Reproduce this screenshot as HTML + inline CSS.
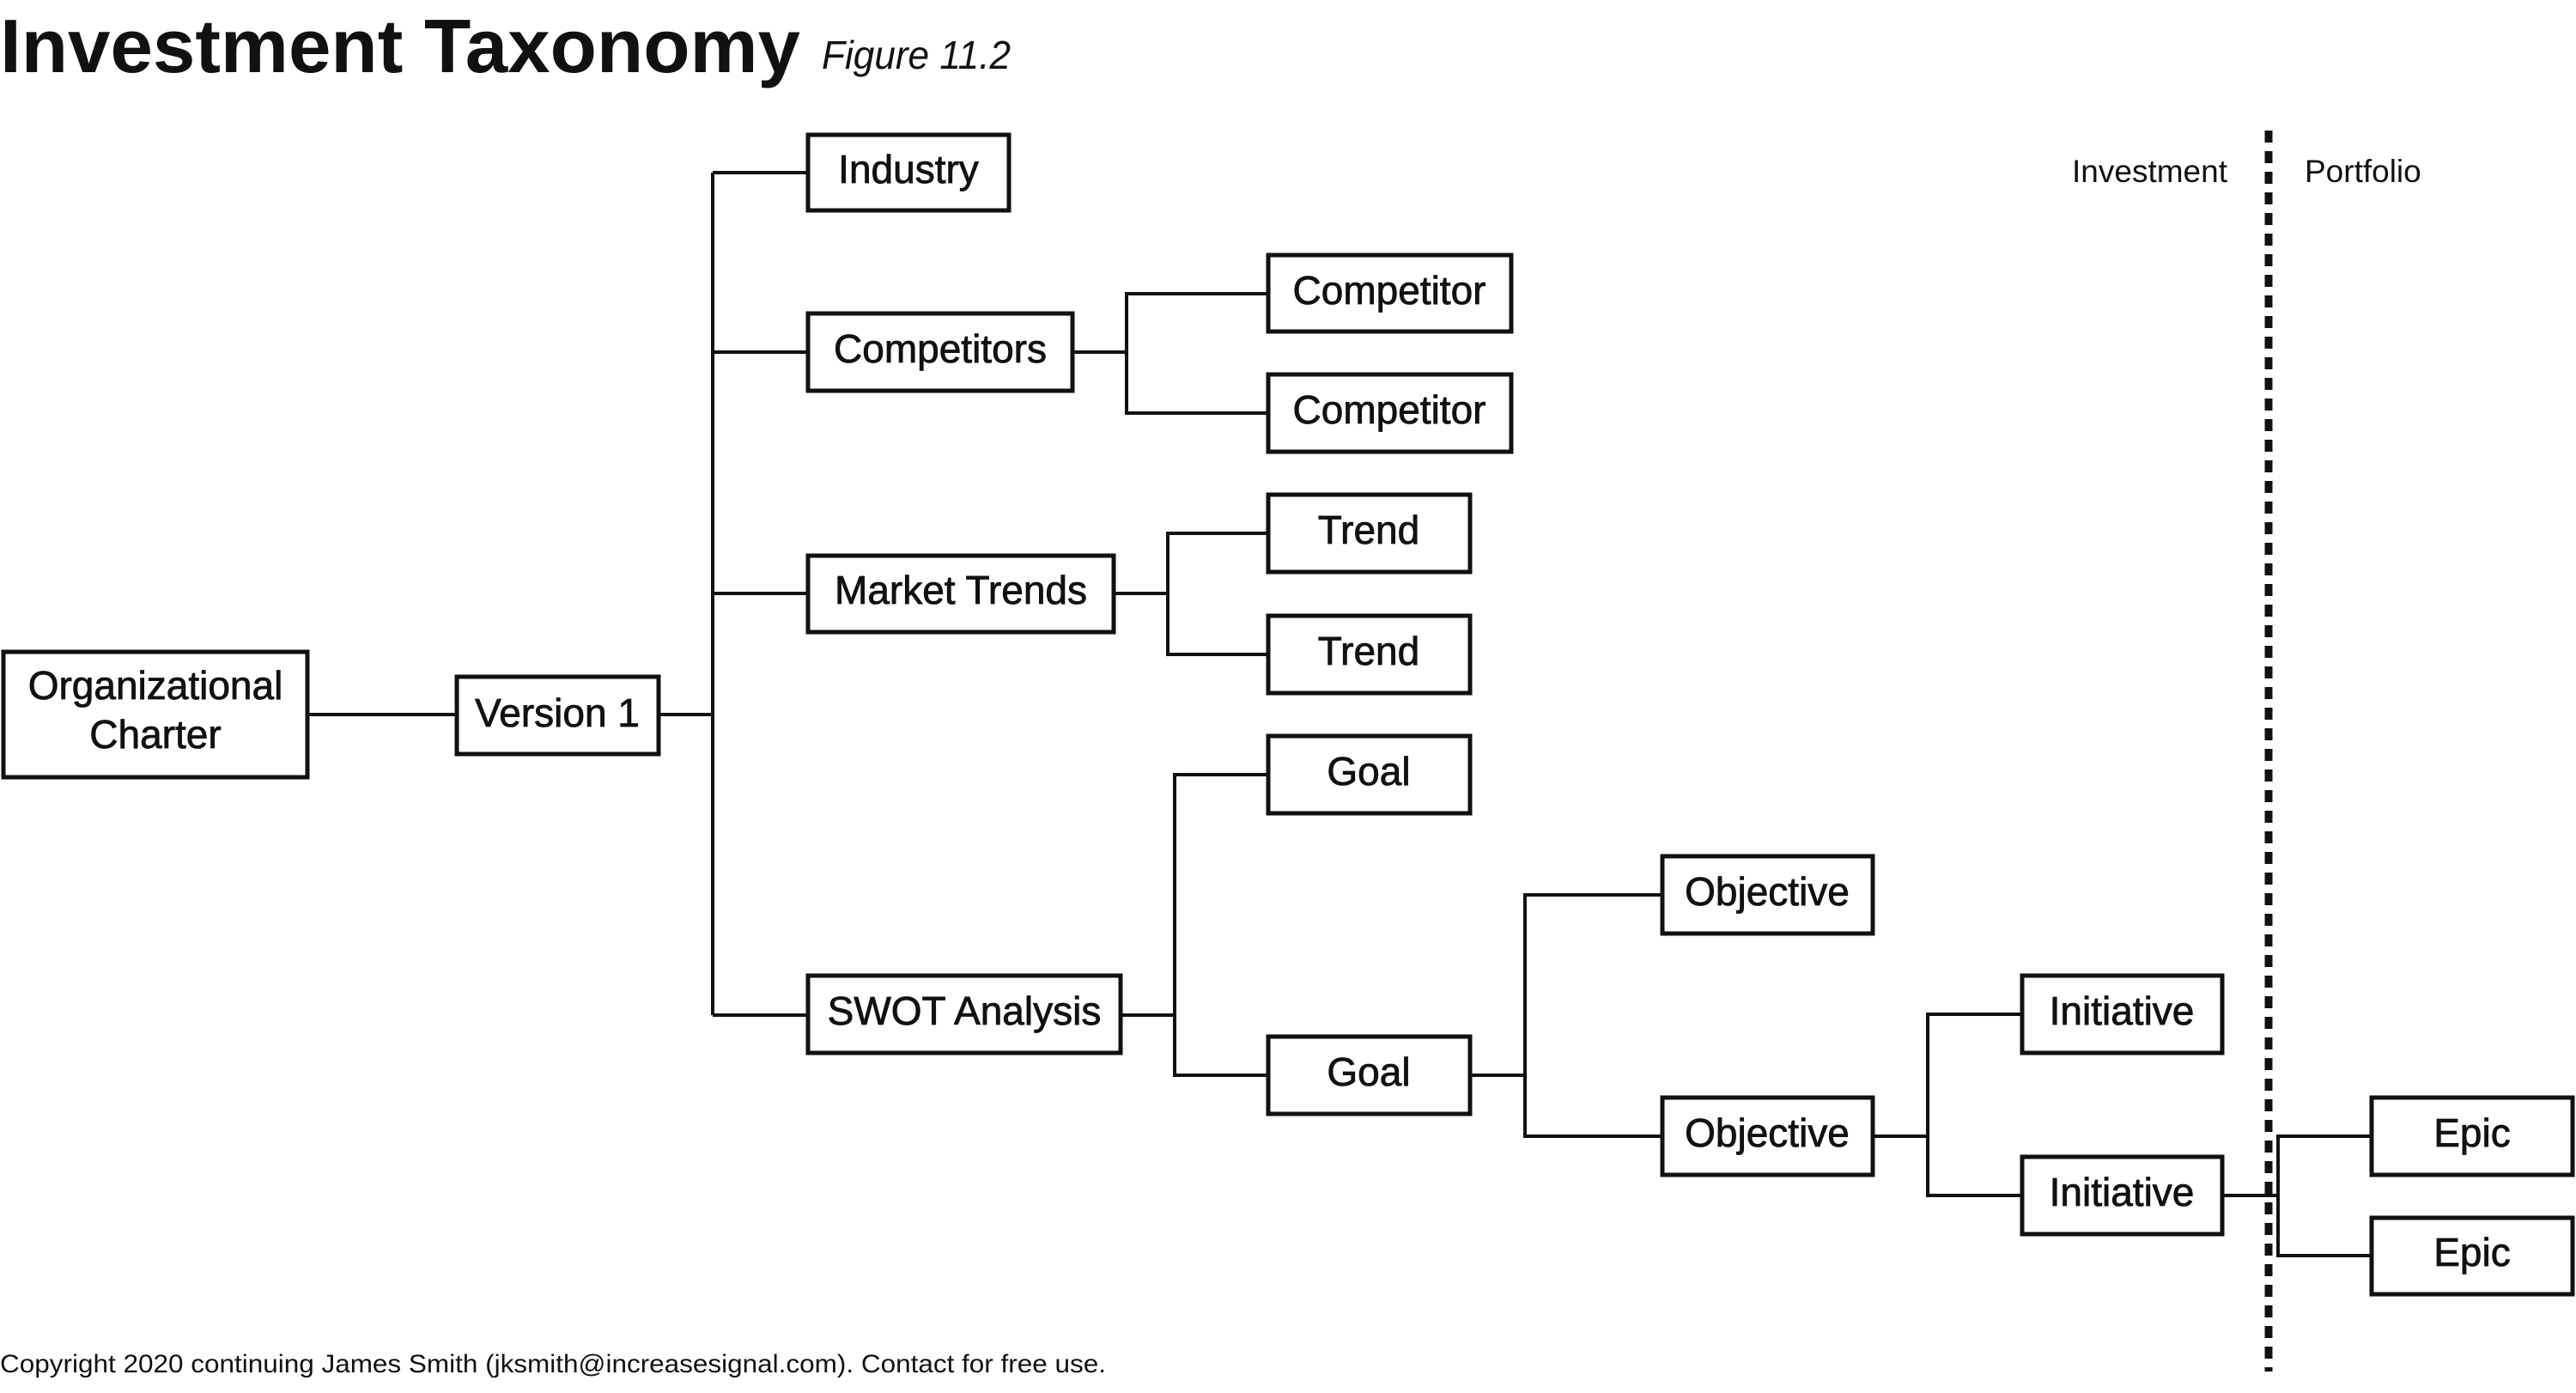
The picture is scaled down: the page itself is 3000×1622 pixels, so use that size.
<!DOCTYPE html>
<html><head><meta charset="utf-8"><style>
html,body{margin:0;padding:0;background:#fff;}
svg{display:block}
text{font-family:"Liberation Sans",sans-serif;fill:#111}
</style></head><body>
<svg width="3000" height="1622" viewBox="0 0 3000 1622" xmlns="http://www.w3.org/2000/svg">
<text x="0" y="84" font-size="88" font-weight="bold" textLength="932" lengthAdjust="spacingAndGlyphs">Investment Taxonomy</text>
<text x="957" y="80" font-size="46" font-style="italic" textLength="220" lengthAdjust="spacingAndGlyphs">Figure 11.2</text>
<text x="2594" y="212" font-size="37" text-anchor="end">Investment</text>
<text x="2684" y="212" font-size="37">Portfolio</text>
<text x="0" y="1598" font-size="30" textLength="1288" lengthAdjust="spacingAndGlyphs">Copyright 2020 continuing James Smith (jksmith@increasesignal.com). Contact for free use.</text>
<line x1="2642" y1="152" x2="2642" y2="1597" stroke="#111" stroke-width="9" stroke-dasharray="14 10"/>
<g stroke="#111" stroke-width="4" fill="none">
<line x1="358" y1="832" x2="532" y2="832"/>
<line x1="767" y1="832" x2="830" y2="832"/>
<line x1="830" y1="201" x2="830" y2="1182"/>
<line x1="830" y1="201" x2="941" y2="201"/>
<line x1="830" y1="410" x2="941" y2="410"/>
<line x1="830" y1="691" x2="941" y2="691"/>
<line x1="830" y1="1182" x2="941" y2="1182"/>
<line x1="1249" y1="410" x2="1312" y2="410"/>
<polyline points="1477,342 1312,342 1312,481 1477,481"/>
<line x1="1297" y1="691" x2="1360" y2="691"/>
<polyline points="1477,621 1360,621 1360,762 1477,762"/>
<line x1="1305" y1="1182" x2="1368" y2="1182"/>
<polyline points="1477,902 1368,902 1368,1252 1477,1252"/>
<line x1="1712" y1="1252" x2="1776" y2="1252"/>
<polyline points="1936,1042 1776,1042 1776,1323 1936,1323"/>
<line x1="2181" y1="1323" x2="2245" y2="1323"/>
<polyline points="2355,1181 2245,1181 2245,1392 2355,1392"/>
<line x1="2588" y1="1392" x2="2653" y2="1392"/>
<polyline points="2762,1323 2653,1323 2653,1462 2762,1462"/>
</g>
<g stroke="#111" stroke-width="5" fill="#fff">
<rect x="4" y="759" width="354" height="146"/>
<rect x="532" y="788" width="235" height="90"/>
<rect x="941" y="157" width="234" height="88"/>
<rect x="941" y="365" width="308" height="90"/>
<rect x="1477" y="297" width="283" height="89"/>
<rect x="1477" y="436" width="283" height="90"/>
<rect x="941" y="647" width="356" height="89"/>
<rect x="1477" y="576" width="235" height="90"/>
<rect x="1477" y="717" width="235" height="90"/>
<rect x="1477" y="857" width="235" height="90"/>
<rect x="941" y="1136" width="364" height="90"/>
<rect x="1477" y="1207" width="235" height="90"/>
<rect x="1936" y="997" width="245" height="90"/>
<rect x="1936" y="1278" width="245" height="90"/>
<rect x="2355" y="1136" width="233" height="90"/>
<rect x="2355" y="1347" width="233" height="90"/>
<rect x="2762" y="1278" width="234" height="90"/>
<rect x="2762" y="1418" width="234" height="89"/>
</g>
<g font-size="46" text-anchor="middle" stroke="#111" stroke-width="0.8">
<text x="181" y="814">Organizational</text>
<text x="181" y="871">Charter</text>
<text x="649" y="846">Version 1</text>
<text x="1058" y="213">Industry</text>
<text x="1095" y="422">Competitors</text>
<text x="1618" y="354">Competitor</text>
<text x="1618" y="493">Competitor</text>
<text x="1119" y="703">Market Trends</text>
<text x="1594" y="633">Trend</text>
<text x="1594" y="774">Trend</text>
<text x="1594" y="914">Goal</text>
<text x="1123" y="1193">SWOT Analysis</text>
<text x="1594" y="1264">Goal</text>
<text x="2058" y="1054">Objective</text>
<text x="2058" y="1335">Objective</text>
<text x="2471" y="1193">Initiative</text>
<text x="2471" y="1404">Initiative</text>
<text x="2879" y="1335">Epic</text>
<text x="2879" y="1474">Epic</text>
</g>
</svg>
</body></html>
